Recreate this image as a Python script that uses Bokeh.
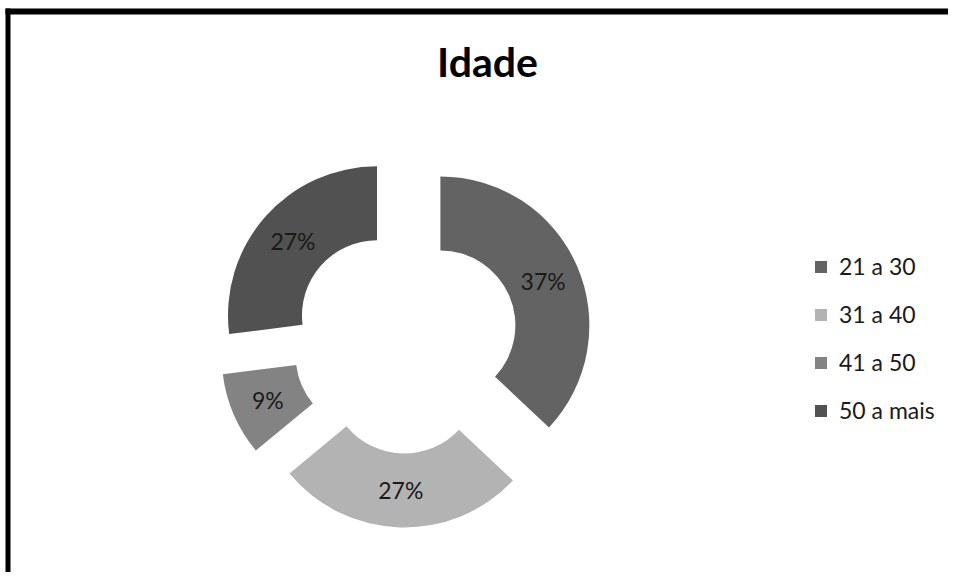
import math
from bokeh.plotting import figure
from bokeh.models import Range1d, ColumnDataSource, Legend, LegendItem, BoxAnnotation
from bokeh.core.properties import value
from bokeh.embed import file_html
from bokeh.resources import INLINE

# ---- data ----
categories = ["21 a 30", "31 a 40", "41 a 50", "50 a mais"]
percentages = [37, 27, 9, 27]
labels = ["37%", "27%", "9%", "27%"]
colors = ["#636363", "#b3b3b3", "#838383", "#515151"]
title_text = "Idade"

# ---- layout (pixel-mapped coordinates, y up) ----
W, H = 948, 572
REF_H = 580
cx, cy = 405, REF_H - 340   # donut centre
r_in, r_out = 75, 149
explode = 38
label_r = 150

p = figure(width=W, height=H, output_backend="svg", toolbar_location=None,
           x_range=Range1d(0, W), y_range=Range1d(REF_H - H, REF_H),
           x_axis_location=None, y_axis_location=None,
           min_border=0, min_border_left=0, min_border_right=0,
           min_border_top=0, min_border_bottom=0)
p.grid.visible = False
p.outline_line_color = None
p.background_fill_color = "white"
p.border_fill_color = "white"

total = sum(percentages)
start = math.pi / 2
starts, ends, xs, ys, lx, ly = [], [], [], [], [], []
for v in percentages:
    sweep = 2 * math.pi * v / total
    end = start - sweep
    mid = (start + end) / 2
    starts.append(end)
    ends.append(start)
    xs.append(cx + explode * math.cos(mid))
    ys.append(cy + explode * math.sin(mid))
    lx.append(cx + label_r * math.cos(mid))
    ly.append(cy + label_r * math.sin(mid))
    start = end

src = ColumnDataSource(dict(x=xs, y=ys, start=starts, end=ends, color=colors,
                            cat=categories, lx=lx, ly=ly, label=labels))

wedges = p.annular_wedge(x="x", y="y", inner_radius=r_in, outer_radius=r_out,
                         start_angle="start", end_angle="end",
                         fill_color="color", line_color=None, source=src)

p.text(x="lx", y="ly", text="label", source=src, text_align="center",
       text_baseline="middle", text_font=value("Lato"), text_font_size="23px",
       text_color="#1a1a1a")

# title
p.text(x=[487], y=[REF_H - 61], text=[title_text], text_align="center",
       text_baseline="middle", text_font=value("Lato"), text_font_size="41px",
       text_font_style="bold", text_color="black")

legend = Legend(items=[LegendItem(label=c, renderers=[wedges], index=i)
                       for i, c in enumerate(categories)],
                location=(813, 148), orientation="vertical",
                glyph_width=15, glyph_height=15, label_height=20,
                spacing=20, padding=0, margin=0, label_standoff=11,
                label_text_font="Lato", label_text_font_size="23px",
                label_text_color="#1a1a1a",
                border_line_color=None, background_fill_alpha=0)
p.add_layout(legend, "center")

# frame border (top and left visible)
p.add_layout(BoxAnnotation(left=5, bottom=REF_H - 14, top=REF_H - 8,
                           fill_color="black", fill_alpha=1, line_color=None))
p.add_layout(BoxAnnotation(left=5, right=10, top=REF_H - 8,
                           fill_color="black", fill_alpha=1, line_color=None))

open("out.html", "w").write(file_html(p, INLINE))
